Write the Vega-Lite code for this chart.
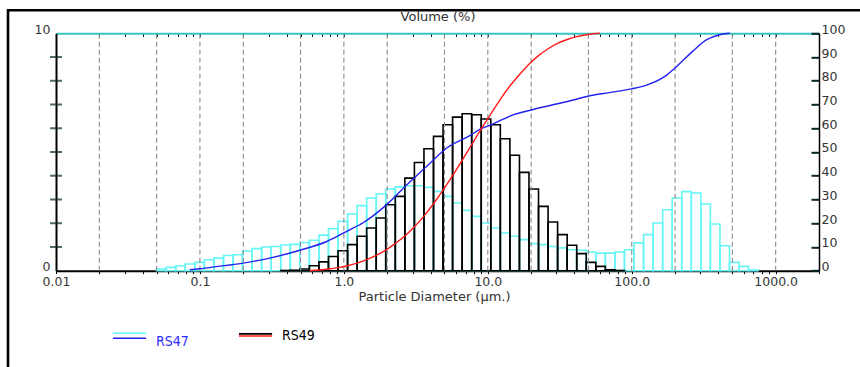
{
  "$schema": "https://vega.github.io/schema/vega-lite/v6.json",
  "autosize": {"type": "none"},
  "width": 862,
  "height": 370,
  "padding": {"left": 8, "top": 10.3, "right": 0, "bottom": 0},
  "background": "white",
  "config": {
    "view": {"stroke": "#000000", "strokeWidth": 2.6},
    "font": "DejaVu Sans",
    "axis": {"labelFont": "DejaVu Sans", "labelFontSize": 12.5, "labelColor": "#333333", "titleFont": "DejaVu Sans", "titleFontSize": 13, "titleFontWeight": "normal", "titleColor": "#333333", "domainColor": "#000000", "tickColor": "#000000", "grid": false, "labelOverlap": false, "labelFlush": false}
  },
  "datasets": {
    "grid": [{"d":0.02},{"d":0.05},{"d":0.1},{"d":0.2},{"d":0.5},{"d":1},{"d":2},{"d":5},{"d":10},{"d":20},{"d":50},{"d":100},{"d":200},{"d":500},{"d":1000}],
    "lt": [{"v":1},{"v":2},{"v":3},{"v":4},{"v":5},{"v":6},{"v":7},{"v":8},{"v":9}],
    "bins": [
      {"s":"RS47","lo":0.05,"hi":0.05825,"v":0.07},
      {"s":"RS47","lo":0.05825,"hi":0.06786,"v":0.14},
      {"s":"RS47","lo":0.06786,"hi":0.07906,"v":0.21},
      {"s":"RS47","lo":0.07906,"hi":0.09211,"v":0.28},
      {"s":"RS47","lo":0.09211,"hi":0.1073,"v":0.35},
      {"s":"RS47","lo":0.1073,"hi":0.125,"v":0.46},
      {"s":"RS47","lo":0.125,"hi":0.1457,"v":0.53},
      {"s":"RS47","lo":0.1457,"hi":0.1697,"v":0.64},
      {"s":"RS47","lo":0.1697,"hi":0.1977,"v":0.67},
      {"s":"RS47","lo":0.1977,"hi":0.2303,"v":0.83},
      {"s":"RS47","lo":0.2303,"hi":0.2683,"v":0.93},
      {"s":"RS47","lo":0.2683,"hi":0.3126,"v":1.0},
      {"s":"RS47","lo":0.3126,"hi":0.3642,"v":1.02},
      {"s":"RS47","lo":0.3642,"hi":0.4243,"v":1.08},
      {"s":"RS47","lo":0.4243,"hi":0.4943,"v":1.11},
      {"s":"RS47","lo":0.4943,"hi":0.5759,"v":1.19},
      {"s":"RS47","lo":0.5759,"hi":0.6709,"v":1.28},
      {"s":"RS47","lo":0.6709,"hi":0.7816,"v":1.5},
      {"s":"RS47","lo":0.7816,"hi":0.9106,"v":1.77},
      {"s":"RS47","lo":0.9106,"hi":1.061,"v":2.08},
      {"s":"RS47","lo":1.061,"hi":1.236,"v":2.39},
      {"s":"RS47","lo":1.236,"hi":1.44,"v":2.74},
      {"s":"RS47","lo":1.44,"hi":1.678,"v":3.06},
      {"s":"RS47","lo":1.678,"hi":1.954,"v":3.23},
      {"s":"RS47","lo":1.954,"hi":2.277,"v":3.44},
      {"s":"RS47","lo":2.277,"hi":2.653,"v":3.53},
      {"s":"RS47","lo":2.653,"hi":3.09,"v":3.58},
      {"s":"RS47","lo":3.09,"hi":3.601,"v":3.58},
      {"s":"RS47","lo":3.601,"hi":4.195,"v":3.51},
      {"s":"RS47","lo":4.195,"hi":4.887,"v":3.34},
      {"s":"RS47","lo":4.887,"hi":5.693,"v":3.13},
      {"s":"RS47","lo":5.693,"hi":6.633,"v":2.85},
      {"s":"RS47","lo":6.633,"hi":7.728,"v":2.54},
      {"s":"RS47","lo":7.728,"hi":9.003,"v":2.29},
      {"s":"RS47","lo":9.003,"hi":10.49,"v":2.01},
      {"s":"RS47","lo":10.49,"hi":12.22,"v":1.8},
      {"s":"RS47","lo":12.22,"hi":14.24,"v":1.59},
      {"s":"RS47","lo":14.24,"hi":16.59,"v":1.45},
      {"s":"RS47","lo":16.59,"hi":19.32,"v":1.31},
      {"s":"RS47","lo":19.32,"hi":22.51,"v":1.14},
      {"s":"RS47","lo":22.51,"hi":26.23,"v":1.1},
      {"s":"RS47","lo":26.23,"hi":30.55,"v":1.02},
      {"s":"RS47","lo":30.55,"hi":35.6,"v":0.96},
      {"s":"RS47","lo":35.6,"hi":41.47,"v":0.88},
      {"s":"RS47","lo":41.47,"hi":48.31,"v":0.86},
      {"s":"RS47","lo":48.31,"hi":56.29,"v":0.79},
      {"s":"RS47","lo":56.29,"hi":65.58,"v":0.74},
      {"s":"RS47","lo":65.58,"hi":76.4,"v":0.74},
      {"s":"RS47","lo":76.4,"hi":89.0,"v":0.79},
      {"s":"RS47","lo":89.0,"hi":103.7,"v":0.88},
      {"s":"RS47","lo":103.7,"hi":120.8,"v":1.17},
      {"s":"RS47","lo":120.8,"hi":140.7,"v":1.52},
      {"s":"RS47","lo":140.7,"hi":164.0,"v":2.01},
      {"s":"RS47","lo":164.0,"hi":191.0,"v":2.57},
      {"s":"RS47","lo":191.0,"hi":222.5,"v":3.06},
      {"s":"RS47","lo":222.5,"hi":259.3,"v":3.33},
      {"s":"RS47","lo":259.3,"hi":302.1,"v":3.27},
      {"s":"RS47","lo":302.1,"hi":351.9,"v":2.81},
      {"s":"RS47","lo":351.9,"hi":410.0,"v":1.97},
      {"s":"RS47","lo":410.0,"hi":477.6,"v":1.05},
      {"s":"RS47","lo":477.6,"hi":556.5,"v":0.35},
      {"s":"RS47","lo":556.5,"hi":648.3,"v":0.18},
      {"s":"RS47","lo":648.3,"hi":755.3,"v":0.03},
      {"s":"RS49","lo":0.3642,"hi":0.4243,"v":0.01},
      {"s":"RS49","lo":0.4243,"hi":0.4943,"v":0.02},
      {"s":"RS49","lo":0.4943,"hi":0.5759,"v":0.07},
      {"s":"RS49","lo":0.5759,"hi":0.6709,"v":0.21},
      {"s":"RS49","lo":0.6709,"hi":0.7816,"v":0.37},
      {"s":"RS49","lo":0.7816,"hi":0.9106,"v":0.6},
      {"s":"RS49","lo":0.9106,"hi":1.061,"v":0.84},
      {"s":"RS49","lo":1.061,"hi":1.236,"v":1.1},
      {"s":"RS49","lo":1.236,"hi":1.44,"v":1.45},
      {"s":"RS49","lo":1.44,"hi":1.678,"v":1.8},
      {"s":"RS49","lo":1.678,"hi":1.954,"v":2.22},
      {"s":"RS49","lo":1.954,"hi":2.277,"v":2.78},
      {"s":"RS49","lo":2.277,"hi":2.653,"v":3.13},
      {"s":"RS49","lo":2.653,"hi":3.09,"v":3.9},
      {"s":"RS49","lo":3.09,"hi":3.601,"v":4.56},
      {"s":"RS49","lo":3.601,"hi":4.195,"v":5.14},
      {"s":"RS49","lo":4.195,"hi":4.887,"v":5.66},
      {"s":"RS49","lo":4.887,"hi":5.693,"v":6.15},
      {"s":"RS49","lo":5.693,"hi":6.633,"v":6.47},
      {"s":"RS49","lo":6.633,"hi":7.728,"v":6.61},
      {"s":"RS49","lo":7.728,"hi":9.003,"v":6.57},
      {"s":"RS49","lo":9.003,"hi":10.49,"v":6.39},
      {"s":"RS49","lo":10.49,"hi":12.22,"v":6.15},
      {"s":"RS49","lo":12.22,"hi":14.24,"v":5.56},
      {"s":"RS49","lo":14.24,"hi":16.59,"v":4.86},
      {"s":"RS49","lo":16.59,"hi":19.32,"v":4.14},
      {"s":"RS49","lo":19.32,"hi":22.51,"v":3.44},
      {"s":"RS49","lo":22.51,"hi":26.23,"v":2.71},
      {"s":"RS49","lo":26.23,"hi":30.55,"v":2.05},
      {"s":"RS49","lo":30.55,"hi":35.6,"v":1.52},
      {"s":"RS49","lo":35.6,"hi":41.47,"v":1.07},
      {"s":"RS49","lo":41.47,"hi":48.31,"v":0.72},
      {"s":"RS49","lo":48.31,"hi":56.29,"v":0.35},
      {"s":"RS49","lo":56.29,"hi":65.58,"v":0.18},
      {"s":"RS49","lo":65.58,"hi":76.4,"v":0.04},
      {"s":"RS49","lo":76.4,"hi":89.0,"v":0.01}
    ],
    "cum": [
      {"s":"RS47","d":0.085,"p":0.4},
      {"s":"RS47","d":0.1,"p":0.8},
      {"s":"RS47","d":0.13,"p":1.7},
      {"s":"RS47","d":0.195,"p":3.1},
      {"s":"RS47","d":0.29,"p":5.0},
      {"s":"RS47","d":0.495,"p":8.6},
      {"s":"RS47","d":0.76,"p":12.3},
      {"s":"RS47","d":0.99,"p":15.8},
      {"s":"RS47","d":1.09,"p":17.1},
      {"s":"RS47","d":1.36,"p":20.2},
      {"s":"RS47","d":1.94,"p":27.3},
      {"s":"RS47","d":2.73,"p":36.1},
      {"s":"RS47","d":3.95,"p":45.2},
      {"s":"RS47","d":5.16,"p":51.6},
      {"s":"RS47","d":7.5,"p":56.9},
      {"s":"RS47","d":8.85,"p":59.6},
      {"s":"RS47","d":10.3,"p":61.2},
      {"s":"RS47","d":12.1,"p":63.2},
      {"s":"RS47","d":15.0,"p":65.6},
      {"s":"RS47","d":20.1,"p":67.7},
      {"s":"RS47","d":39.1,"p":71.9},
      {"s":"RS47","d":50.2,"p":73.6},
      {"s":"RS47","d":70,"p":75.0},
      {"s":"RS47","d":99.5,"p":76.6},
      {"s":"RS47","d":127,"p":78.2},
      {"s":"RS47","d":175,"p":82.4},
      {"s":"RS47","d":199,"p":85.3},
      {"s":"RS47","d":266,"p":92.5},
      {"s":"RS47","d":330,"p":97.2},
      {"s":"RS47","d":408,"p":99.4},
      {"s":"RS47","d":455,"p":99.9},
      {"s":"RS47","d":480,"p":100},
      {"s":"RS49","d":0.576,"p":0.0},
      {"s":"RS49","d":0.671,"p":0.3},
      {"s":"RS49","d":0.782,"p":0.7},
      {"s":"RS49","d":0.911,"p":1.3},
      {"s":"RS49","d":1.061,"p":2.1},
      {"s":"RS49","d":1.236,"p":3.2},
      {"s":"RS49","d":1.44,"p":4.7},
      {"s":"RS49","d":1.678,"p":6.5},
      {"s":"RS49","d":1.954,"p":8.7},
      {"s":"RS49","d":2.277,"p":11.5},
      {"s":"RS49","d":2.653,"p":14.6},
      {"s":"RS49","d":3.09,"p":18.5},
      {"s":"RS49","d":3.601,"p":23.0},
      {"s":"RS49","d":4.195,"p":28.2},
      {"s":"RS49","d":4.887,"p":33.9},
      {"s":"RS49","d":5.693,"p":40.0},
      {"s":"RS49","d":6.633,"p":46.5},
      {"s":"RS49","d":7.728,"p":53.1},
      {"s":"RS49","d":9.003,"p":59.7},
      {"s":"RS49","d":10.49,"p":66.0},
      {"s":"RS49","d":12.22,"p":72.2},
      {"s":"RS49","d":14.24,"p":77.8},
      {"s":"RS49","d":16.59,"p":82.6},
      {"s":"RS49","d":19.32,"p":87.0},
      {"s":"RS49","d":22.51,"p":90.6},
      {"s":"RS49","d":26.23,"p":93.5},
      {"s":"RS49","d":30.55,"p":95.8},
      {"s":"RS49","d":35.6,"p":97.4},
      {"s":"RS49","d":41.47,"p":98.6},
      {"s":"RS49","d":48.31,"p":99.4},
      {"s":"RS49","d":56.29,"p":99.9},
      {"s":"RS49","d":60,"p":100}
    ]
  },
  "layer": [
    {
      "layer": [
        {
          "data": {"name": "bins"},
          "mark": {"type": "bar", "fillOpacity": 0, "strokeWidth": 1.6},
          "encoding": {
            "x": {"field": "lo", "type": "quantitative", "scale": {"type": "log", "domain": [0.01, 2000], "range": [48, 811], "nice": false},
              "axis": {"orient": "bottom", "offset": -109.6, "values": [0.01,0.02,0.03,0.04,0.05,0.06,0.07,0.08,0.09,0.1,0.2,0.3,0.4,0.5,0.6,0.7,0.8,0.9,1,2,3,4,5,6,7,8,9,10,20,30,40,50,60,70,80,90,100,200,300,400,500,600,700,800,900,1000,2000],
                "tickSize": 3, "tickWidth": 1, "domainWidth": 2, "labelPadding": 2, "labelBaseline": "top",
                "labelExpr": "datum.value === 0.01 ? '0.01' : datum.value === 0.1 ? '0.1' : datum.value === 1 ? '1.0' : datum.value === 10 ? '10.0' : datum.value === 100 ? '100.0' : datum.value === 1000 ? '1000.0' : ''",
                "title": "Particle Diameter (µm.)", "titleX": 350, "titleY": 26, "titleAlign": "left", "titleBaseline": "middle"}},
            "x2": {"field": "hi"},
            "y": {"field": "v", "type": "quantitative", "scale": {"domain": [0, 10], "range": [260.4, 23], "nice": false, "zero": false},
              "axis": {"orient": "left", "offset": -48, "values": [0, 10], "ticks": false, "tickSize": 0, "labelPadding": 6, "labelBaseline": "alphabetic", "title": null, "domainWidth": 2}},
            "y2": {"datum": 0},
            "stroke": {"field": "s", "type": "nominal",
              "scale": {"range": ["#66f6f6", "#000000"]},
              "legend": {"orient": "none", "legendX": 104, "legendY": 306.5, "direction": "horizontal", "title": null, "padding": 0,
                "symbolType": {"expr": "datum.value === 'RS47' ? 'M-1,-0.08H1' : 'M-1,-0.04H1'"}, "symbolSize": 1100, "symbolStrokeWidth": 1.6,
                "labelFont": "'DejaVu Sans Condensed', 'DejaVu Sans'", "labelFontSize": 14, "labelOffset": 42, "columnPadding": 46,
                "labelExpr": "''"}}
          }
        },
        {
          "data": {"name": "grid"},
          "mark": {"type": "rule", "color": "#8a8a8a", "strokeDash": [5, 3], "strokeWidth": 1.1},
          "encoding": {
            "x": {"field": "d", "type": "quantitative"},
            "y": {"datum": 0, "type": "quantitative"},
            "y2": {"datum": 10}
          }
        },
        {
          "data": {"name": "lt"},
          "mark": {"type": "tick", "orient": "horizontal", "size": 12, "thickness": 2, "color": "#0b2626"},
          "encoding": {
            "x": {"datum": 0.01, "type": "quantitative"},
            "y": {"field": "v", "type": "quantitative"}
          }
        }
      ]
    },
    {
      "layer": [
        {
          "data": {"name": "cum"},
          "mark": {"type": "line", "strokeWidth": 1.4, "interpolate": "monotone"},
          "encoding": {
            "x": {"field": "d", "type": "quantitative", "scale": {"type": "log", "domain": [0.01, 2000], "range": [48, 811], "nice": false},
              "axis": {"orient": "top", "offset": -23, "values": [0.01,0.02,0.03,0.04,0.05,0.06,0.07,0.08,0.09,0.1,0.2,0.3,0.4,0.5,0.6,0.7,0.8,0.9,1,2,3,4,5,6,7,8,9,10,20,30,40,50,60,70,80,90,100,200,300,400,500,600,700,800,900,1000,2000],
                "tickSize": -3, "tickWidth": 1, "labels": false, "domainColor": "#35c5c5", "domainWidth": 2,
                "title": "Volume (%)", "titleY": -17, "titleBaseline": "middle"}},
            "y": {"field": "p", "type": "quantitative", "scale": {"domain": [0, 100], "range": [260.4, 23], "nice": false},
              "axis": {"orient": "right", "offset": -51, "values": [0,10,20,30,40,50,60,70,80,90,100], "tickSize": -8, "tickWidth": 2, "tickColor": "#0b2626", "labelPadding": 10, "labelBaseline": "alphabetic", "title": null, "domainWidth": 1.5}},
            "color": {"field": "s", "type": "nominal",
              "scale": {"range": ["#2323f0", "#ff1a1a"]},
              "legend": {"orient": "none", "legendX": 104, "legendY": 306.5, "direction": "horizontal", "title": null, "padding": 0,
                "symbolType": {"expr": "datum.value === 'RS47' ? 'M-1,0.22H1' : 'M-1,-0.24H1'"}, "symbolSize": 1100, "symbolStrokeWidth": 1.6,
                "labelFont": "'DejaVu Sans Condensed', 'DejaVu Sans'", "labelFontSize": 14, "labelOffset": 9, "columnPadding": 46,
                "labelColor": {"expr": "datum.value === 'RS47' ? '#2b2bff' : '#000000'"},
                "labelBaseline": {"expr": "datum.value === 'RS47' ? 'top' : 'alphabetic'"}}}
          }
        }
      ]
    }
  ],
  "resolve": {"scale": {"y": "independent"}, "axis": {"x": "independent", "y": "independent"}}
}
